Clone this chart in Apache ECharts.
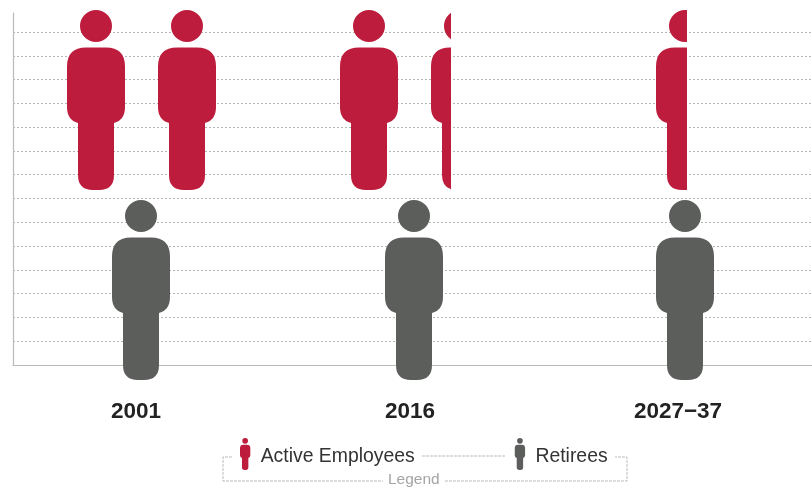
<!DOCTYPE html>
<html>
<head>
<meta charset="utf-8">
<style>html,body{margin:0;padding:0;background:#fff}#chart{width:812px;height:487px}</style>
<script src="https://cdn.jsdelivr.net/npm/echarts@6/dist/echarts.min.js"></script>
</head>
<body>
<div id="chart"></div>
<script>
// Period labels
const periods = ['2001', '2016', '2027\u221237'];
// Values in figure pitches: one unit spans one figure plus the gap after it
const activeEmployees = [1.64, 1.22, 0.34];
const retirees = [0.64, 0.64, 0.64];

const seriesNames = ['Active Employees', 'Retirees'];
const RED = '#bd1c3c';
const GREY = '#5c5e5c';
const LINE = '#b9bbba';

// Person glyph: head, torso with rounded shoulders, single rounded leg block
const personPath = 'path://M29,0 A16,16 0 1 1 29,32 A16,16 0 1 1 29,0 Z ' +
  'M19,37.5 L39,37.5 Q58,37.5 58,56.5 L58,97 Q58,110 47,113 L47,165 Q47,180 32,180 L26,180 Q11,180 11,165 L11,113 Q0,110 0,97 L0,56.5 Q0,37.5 19,37.5 Z';

const PITCH = 91, FIG_W = 58, FIG_H = 180, AXIS_MAX = 1.65;
const rows = [
  { name: seriesNames[0], values: activeEmployees, color: RED, top: 10, starts: [67, 340, 656] },
  { name: seriesNames[1], values: retirees, color: GREY, top: 200, starts: [112, 385, 656] }
];
const labelPositions = [136, 410, 678];

// Grid 0 holds the ruled background; each period/row pair gets its own small grid
const grids = [{ left: 13, right: 0, top: 13, bottom: 122 }];
const xAxes = [{
  type: 'value', gridIndex: 0, min: 13, max: 812,
  splitLine: { show: false },
  axisLine: { show: true, onZero: false, lineStyle: { color: LINE, width: 1.2 } },
  axisTick: { show: false },
  axisLabel: {
    show: true,
    customValues: labelPositions,
    showMinLabel: true,
    showMaxLabel: true,
    hideOverlap: false,
    margin: 35,
    fontFamily: 'Liberation Sans', fontSize: 22.5, fontWeight: 'bold', color: '#222',
    formatter: v => periods[labelPositions.indexOf(v)]
  }
}];
const yAxes = [{
  type: 'value', gridIndex: 0, min: 0, max: 14.8, interval: 1,
  axisLine: { show: true, onZero: false, lineStyle: { color: LINE, width: 1.2 } },
  axisTick: { show: false },
  axisLabel: { show: false },
  splitLine: { show: true, showMaxLine: false, showMinLine: false, lineStyle: { color: '#b3b5b4', width: 1, type: [2, 2] } }
}];

const series = [];
rows.forEach(row => {
  row.values.forEach((value, p) => {
    const idx = grids.length;
    grids.push({ left: row.starts[p], top: row.top, width: PITCH * AXIS_MAX, height: FIG_H });
    xAxes.push({ type: 'value', gridIndex: idx, min: 0, max: AXIS_MAX, show: false });
    yAxes.push({ type: 'category', gridIndex: idx, data: [periods[p]], show: false });
    series.push({
      type: 'pictorialBar',
      name: row.name,
      xAxisIndex: idx,
      yAxisIndex: idx,
      z: 5,
      barWidth: '100%',
      symbol: personPath,
      symbolSize: [FIG_W, FIG_H],
      symbolRepeat: 2,
      symbolBoundingData: (PITCH + FIG_W) / PITCH,
      symbolClip: true,
      itemStyle: { color: row.color },
      data: [value]
    });
  });
});

const chart = echarts.init(document.getElementById('chart'), null, { renderer: 'canvas' });
chart.setOption({
  animation: false,
  backgroundColor: '#fff',
  grid: grids,
  xAxis: xAxes,
  yAxis: yAxes,
  series,
  legend: {
    left: 240, top: 438, padding: 0,
    itemWidth: 11, itemHeight: 32, itemGap: 100,
    selectedMode: false,
    formatter: '{t|{name}}',
    textStyle: {
      fontFamily: 'Liberation Sans', fontSize: 19.4, color: '#333',
      rich: {
        t: {
          fontFamily: 'Liberation Sans', fontSize: 19.4, color: '#333',
          padding: [6, 0, 0, 5]
        }
      }
    },
    data: seriesNames.map((name, i) => ({
      name, icon: personPath, itemStyle: { color: rows[i].color }
    }))
  },
  // Bracket around the legend, with its caption set into the lower edge
  graphic: [
    { type: 'polyline', silent: true, shape: { points: [[232, 457], [223, 457], [223, 481], [383, 481]] },
      style: { stroke: LINE, lineWidth: 1, fill: null, lineDash: [3, 1] } },
    { type: 'polyline', silent: true, shape: { points: [[445, 481], [627, 481], [627, 457], [615, 457]] },
      style: { stroke: LINE, lineWidth: 1, fill: null, lineDash: [3, 1] } },
    { type: 'line', silent: true, shape: { x1: 422, y1: 456, x2: 506, y2: 456 },
      style: { stroke: LINE, lineWidth: 1, lineDash: [3, 1] } },
    { type: 'text', silent: true, left: 388, top: 472,
      style: { text: 'Legend', fontFamily: 'Liberation Sans', fontSize: 15.5, fill: '#a3a5a4' } }
  ]
});
</script>
</body>
</html>
